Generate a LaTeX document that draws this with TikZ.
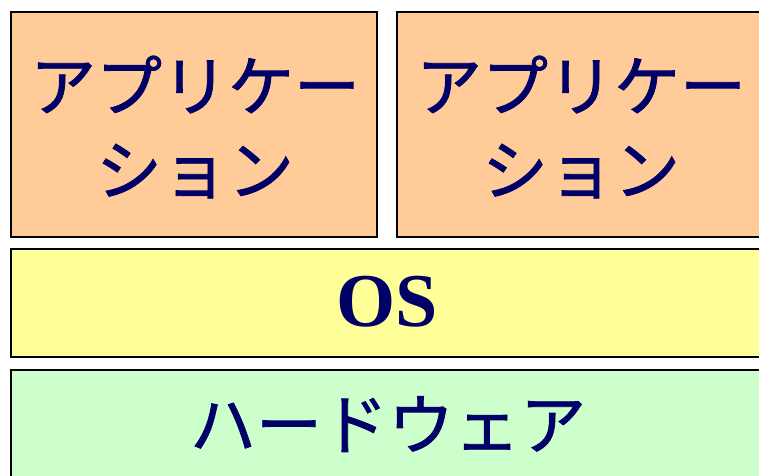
\documentclass[tikz,border=0pt]{standalone}
\usepackage{fontspec}
\setmainfont{Liberation Serif}
\newfontfamily\jpfont[FakeBold=1.2]{Noto Sans CJK JP}
\definecolor{appfill}{HTML}{FFCC99}
\definecolor{osfill}{HTML}{FFFF99}
\definecolor{hwfill}{HTML}{CCFFCC}
\definecolor{txt}{HTML}{000066}
\begin{document}
\begin{tikzpicture}[x=1pt,y=-1pt,
  layer/.style={draw=black,line width=2.6pt},
  jp/.style={text=txt,font=\jpfont\fontsize{66}{84}\selectfont,align=center,inner sep=0pt},
  ostext/.style={text=txt,font=\fontsize{76}{84}\selectfont\bfseries,inner sep=0pt}]
\useasboundingbox (0,0) rectangle (759,475);
\clip (0,0) rectangle (759,475);
\draw[layer,fill=appfill] (11,12) rectangle (377,237);
\draw[layer,fill=appfill] (397,12) rectangle (775,237);
\draw[layer,fill=osfill] (11,249) rectangle (775,357);
\draw[layer,fill=hwfill] (11,370) rectangle (775,495);
\node[jp] (app1) at (195,127) {アプリケー\\ション};
\node[jp] (app2) at (581,127) {アプリケー\\ション};
\node[ostext] (os) at (387,302) {OS};
\node[jp] (hw) at (388,424) {ハードウェア};
\end{tikzpicture}
\end{document}
